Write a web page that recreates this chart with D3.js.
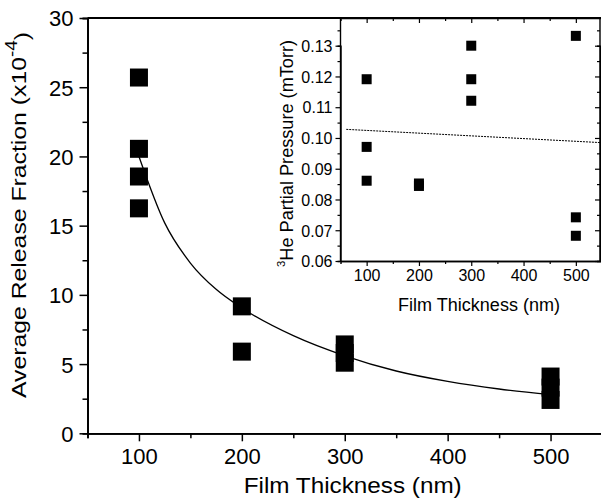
<!DOCTYPE html>
<html>
<head>
<meta charset="utf-8">
<script src="https://cdn.jsdelivr.net/npm/d3@7"></script>
<style>
  body { margin: 0; background: #fff; }
  svg { display: block; font-family: "Liberation Sans", Arial, sans-serif; }
</style>
</head>
<body>
<div id="chart"></div>
<script>
// main plot: release fraction (x10^-4) vs film thickness
const mainThick = [100, 100, 100, 100, 200, 200, 300, 300, 300, 500, 500, 500];
const mainFrac = [25.7, 20.55, 18.55, 16.25, 9.17, 5.9, 6.42, 5.8, 5.1, 4.1, 3.3, 2.41];

// fitted curve
const fitThick = [100, 125, 150, 175, 200, 250, 300, 350, 400, 450, 500];
const fitFrac = [20.0, 15.2, 12.3, 10.4, 9.05, 7.05, 5.6, 4.5, 3.75, 3.2, 2.8];

// inset: 3He partial pressure (mTorr)
const insetThick = [100, 100, 100, 200, 200, 300, 300, 300, 500, 500, 500];
const insetPress = [0.1191, 0.0971, 0.0861, 0.0852, 0.0844, 0.130, 0.1191, 0.1121, 0.1332, 0.0742, 0.0682];
const trendThick = [61, 547];
const trendPress = [0.1028, 0.0985];

const thickTicks = [100, 200, 300, 400, 500];
const thickMinor = [50, 150, 250, 350, 450, 550];
const fracTicks = [0, 5, 10, 15, 20, 25, 30];
const fracMinor = [2.5, 7.5, 12.5, 17.5, 22.5, 27.5];
const pressTicks = [0.06, 0.07, 0.08, 0.09, 0.10, 0.11, 0.12, 0.13];
const pressMinor = [0.065, 0.075, 0.085, 0.095, 0.105, 0.115, 0.125, 0.135];

const W = 601, H = 501;
const svg = d3.select("#chart").append("svg")
  .attr("width", W).attr("height", H);

// ---- main plot ----
let x = d3.scaleLinear().domain([50, 550]).range([87.5, 602]);
let y = d3.scaleLinear().domain([0, 30]).range([433.3, 18]);

let gx = svg.append("g").attr("transform", "translate(0," + y(0) + ")");
gx.call(d3.axisBottom(x).tickValues(thickTicks).tickSize(8).tickSizeOuter(0).tickPadding(7));
gx.append("g").call(d3.axisBottom(x).tickValues(thickMinor).tickSize(5).tickFormat(""));

let gy = svg.append("g").attr("transform", "translate(" + x(50) + ",0)");
gy.call(d3.axisLeft(y).tickValues(fracTicks).tickSize(8).tickSizeOuter(0).tickPadding(6));
gy.append("g").call(d3.axisLeft(y).tickValues(fracMinor).tickSize(5).tickFormat(""));

svg.selectAll(".domain").attr("stroke-width", 1.8);
svg.selectAll(".tick line").attr("stroke-width", 1.5);
gx.selectAll("text").attr("font-size", 22).attr("fill", "#000").attr("dy", "0.71em");
gy.selectAll("text").attr("font-size", 22).attr("fill", "#000").attr("dy", "0.36em");

// top frame
svg.append("line")
  .attr("x1", x(50)).attr("x2", W).attr("y1", y(30)).attr("y2", y(30))
  .attr("stroke", "#000").attr("stroke-width", 1.8);

svg.append("path")
  .datum(d3.zip(fitThick, fitFrac))
  .attr("fill", "none").attr("stroke", "#000").attr("stroke-width", 1.3)
  .attr("d", d3.line().x(d => x(d[0])).y(d => y(d[1])).curve(d3.curveMonotoneX));

let ms = 18;
svg.append("g").selectAll("rect")
  .data(d3.zip(mainThick, mainFrac))
  .enter().append("rect")
  .attr("x", d => x(d[0]) - ms / 2)
  .attr("y", d => y(d[1]) - ms / 2)
  .attr("width", ms).attr("height", ms)
  .attr("fill", "#000");

svg.append("text")
  .attr("x", 352.7).attr("y", 492.7)
  .attr("text-anchor", "middle").attr("font-size", 22)
  .attr("textLength", 218).attr("lengthAdjust", "spacingAndGlyphs")
  .text("Film Thickness (nm)");

let yt = svg.append("text")
  .attr("transform", "translate(26,215) rotate(-90)")
  .attr("text-anchor", "middle").attr("font-size", 21)
  .attr("textLength", 366).attr("lengthAdjust", "spacingAndGlyphs");
yt.append("tspan").text("Average Release Fraction (x10");
yt.append("tspan").attr("dy", "-0.55em").attr("font-size", 16).text("-4");
yt.append("tspan").attr("dy", "0.55em").text(")");

// ---- inset ----
let ix = d3.scaleLinear().domain([50, 550]).range([340.5, 602]);
let iy = d3.scaleLinear().domain([0.06, 0.13]).range([261, 45.7]);
let iTop = 18;

let igx = svg.append("g").attr("transform", "translate(0," + iy(0.06) + ")");
igx.call(d3.axisBottom(ix).tickValues(thickTicks).tickSize(5).tickSizeOuter(0).tickPadding(4));
igx.append("g").call(d3.axisBottom(ix).tickValues(thickMinor.slice(1, 5)).tickSize(3).tickFormat(""));

let igt = svg.append("g").attr("transform", "translate(0," + iTop + ")");
igt.call(d3.axisBottom(ix).tickValues(thickTicks).tickSize(5).tickSizeOuter(0).tickFormat(""));
igt.append("g").call(d3.axisBottom(ix).tickValues(thickMinor.slice(1, 5)).tickSize(3).tickFormat(""));
igt.select(".domain").remove();

let igy = svg.append("g").attr("transform", "translate(" + ix(50) + ",0)");
igy.call(d3.axisLeft(iy).tickValues(pressTicks).tickSize(5).tickSizeOuter(0).tickPadding(3)
  .tickFormat(d3.format(".2f")));
igy.append("g").call(d3.axisLeft(iy).tickValues(pressMinor).tickSize(3).tickFormat(""));
igy.select(".domain").attr("d", "M0," + iy(0.06) + "V" + iTop);

let igr = svg.append("g").attr("transform", "translate(600,0)");
igr.call(d3.axisLeft(iy).tickValues(pressTicks).tickSize(5).tickSizeOuter(0).tickFormat(""));
igr.append("g").call(d3.axisLeft(iy).tickValues(pressMinor).tickSize(3).tickFormat(""));
igr.select(".domain").attr("d", "M0," + iy(0.06) + "V" + iTop);

[igx, igt, igy, igr].forEach(g => {
  g.selectAll(".domain").attr("stroke-width", 1.4);
  g.selectAll(".tick line").attr("stroke-width", 1.2);
});
igx.selectAll("text").attr("font-size", 16).attr("fill", "#000").attr("dy", "0.71em");
igy.selectAll("text").attr("font-size", 16).attr("fill", "#000").attr("dy", "0.36em");

svg.append("path")
  .datum(d3.zip(trendThick, trendPress))
  .attr("fill", "none").attr("stroke", "#000").attr("stroke-width", 1)
  .attr("stroke-dasharray", "2,1")
  .attr("d", d3.line().x(d => ix(d[0])).y(d => iy(d[1])));

let is = 10;
svg.append("g").selectAll("rect")
  .data(d3.zip(insetThick, insetPress))
  .enter().append("rect")
  .attr("x", d => ix(d[0]) - is / 2)
  .attr("y", d => iy(d[1]) - is / 2)
  .attr("width", is).attr("height", is)
  .attr("fill", "#000");

svg.append("text")
  .attr("x", 479).attr("y", 311)
  .attr("text-anchor", "middle").attr("font-size", 17.5)
  .attr("textLength", 162).attr("lengthAdjust", "spacingAndGlyphs")
  .text("Film Thickness (nm)");

let it = svg.append("text")
  .attr("transform", "translate(290,153.5) rotate(-90)")
  .attr("text-anchor", "middle").attr("font-size", 17.5)
  .attr("textLength", 227).attr("lengthAdjust", "spacingAndGlyphs");
it.append("tspan").attr("dy", "-0.5em").attr("font-size", 11).text("3");
it.append("tspan").attr("dy", "0.5em").text("He Partial Pressure (mTorr)");
</script>
</body>
</html>
